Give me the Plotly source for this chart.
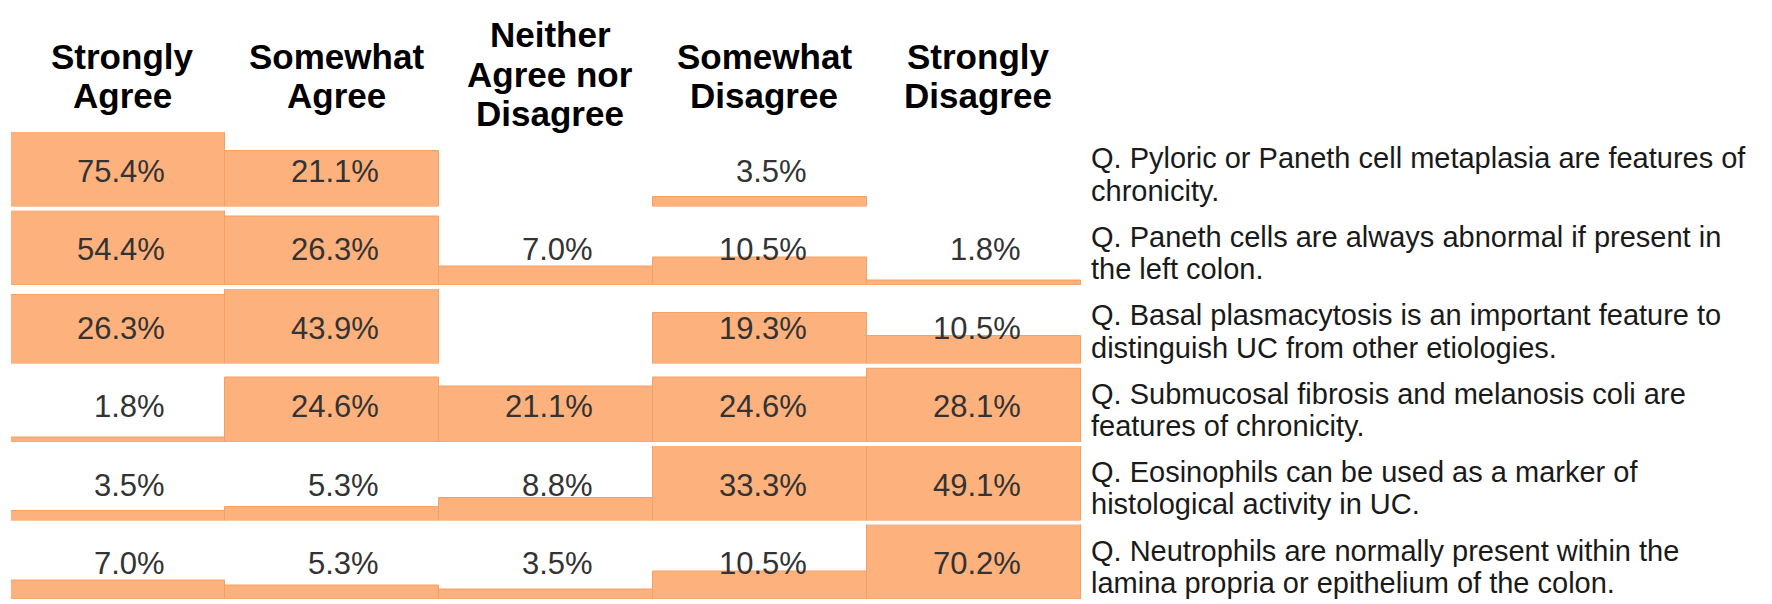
import plotly.graph_objects as go

# ---------------- data ----------------
categories = ["Strongly Agree", "Somewhat Agree", "Neither Agree nor Disagree",
              "Somewhat Disagree", "Strongly Disagree"]
header_lines = [["Strongly", "Agree"], ["Somewhat", "Agree"],
                ["Neither", "Agree nor", "Disagree"],
                ["Somewhat", "Disagree"], ["Strongly", "Disagree"]]

q1 = [75.4, 21.1, None, 3.5, None]
q2 = [54.4, 26.3, 7.0, 10.5, 1.8]
q3 = [26.3, 43.9, None, 19.3, 10.5]
q4 = [1.8, 24.6, 21.1, 24.6, 28.1]
q5 = [3.5, 5.3, 8.8, 33.3, 49.1]
q6 = [7.0, 5.3, 3.5, 10.5, 70.2]
rows = [q1, q2, q3, q4, q5, q6]

questions = [
    ["Q. Pyloric or Paneth cell metaplasia are features of", "chronicity."],
    ["Q. Paneth cells are always abnormal if present in", "the left colon."],
    ["Q. Basal plasmacytosis is an important feature to", "distinguish UC from other etiologies."],
    ["Q. Submucosal fibrosis and melanosis coli are", "features of chronicity."],
    ["Q. Eosinophils can be used as a marker of", "histological activity in UC."],
    ["Q. Neutrophils are normally present within the", "lamina propria or epithelium of the colon."],
]

Y_MAX = 28.5  # cell height corresponds to this percentage; taller bars are clipped

# ---------------- layout constants ----------------
W, H = 1772, 604
X0, X1 = 3, 1073
ROW_TOP0, ROW_PITCH, ROW_H = 124, 78.5, 74.5
FILL = "#FDB17D"
EDGE = "#F6A063"
FONT = "Liberation Sans, Arial, Helvetica, sans-serif"

fig = go.Figure()
layout = dict(
    width=W, height=H,
    margin=dict(l=0, r=0, t=0, b=0),
    paper_bgcolor="white", plot_bgcolor="rgba(0,0,0,0)",
    showlegend=False, bargap=0,
    xaxis=dict(type="category", categoryorder="array", categoryarray=categories,
               range=[-0.5, 4.5], domain=[X0 / W, X1 / W], visible=False,
               fixedrange=True),
)

annotations = []
for r, vals in enumerate(rows):
    top = ROW_TOP0 + r * ROW_PITCH
    bot = top + ROW_H
    yname = "y" if r == 0 else f"y{r + 1}"
    lname = "yaxis" if r == 0 else f"yaxis{r + 1}"
    layout[lname] = dict(range=[0, Y_MAX], domain=[1 - bot / H, 1 - top / H],
                         visible=False, fixedrange=True, anchor="x")
    fig.add_trace(go.Bar(
        x=categories, y=vals, xaxis="x", yaxis=yname,
        marker=dict(color=FILL, line=dict(color=EDGE, width=1)),
        hoverinfo="skip", cliponaxis=True,
    ))
    for c, v in enumerate(vals):
        if v is None:
            continue
        annotations.append(dict(
            x=categories[c], y=Y_MAX / 2, xref="x", yref=yname,
            text=f"{v:.1f}%", showarrow=False, xanchor="right", yanchor="middle",
            xshift=49, yshift=-2,
            font=dict(family=FONT, size=31, color="#333333"),
        ))
    # question text (two lines)
    mid = (top + bot) / 2 + 5
    for k, line in enumerate(questions[r]):
        ypx = mid + (k - 0.5) * 32.5
        annotations.append(dict(
            x=1081 / W, y=1 - ypx / H, xref="paper", yref="paper",
            text=line, showarrow=False, xanchor="left", yanchor="middle",
            font=dict(family=FONT, size=29, color="#1a1a1a"),
        ))

# column headers
col_w = (X1 - X0) / len(categories)
for c, lines in enumerate(header_lines):
    cx = X0 + (c + 0.5) * col_w + 4
    n = len(lines)
    center = 66 if n == 3 else 68
    spacing = 39.5
    for k, line in enumerate(lines):
        ypx = center + (k - (n - 1) / 2) * spacing
        annotations.append(dict(
            x=cx / W, y=1 - ypx / H, xref="paper", yref="paper",
            text=f"<b>{line}</b>", showarrow=False, xanchor="center", yanchor="middle",
            font=dict(family=FONT, size=35, color="#000000"),
        ))

layout["annotations"] = annotations
fig.update_layout(**layout)
fig.write_html("out.html")
